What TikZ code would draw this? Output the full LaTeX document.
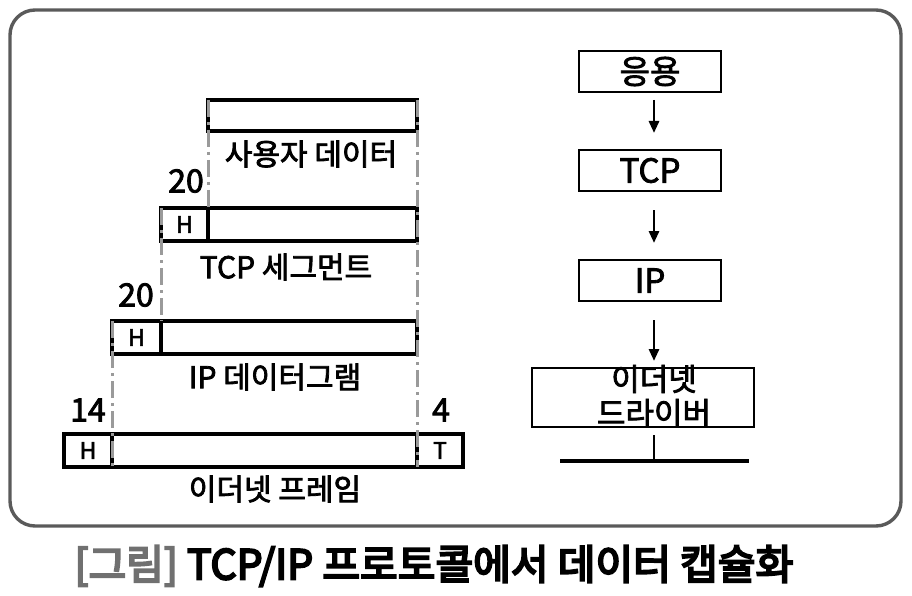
\documentclass[tikz,border=0pt]{standalone}
\usepackage{fontspec}
\setmainfont{Noto Sans CJK KR}
\newfontfamily\medfont{Noto Sans CJK KR}[FakeBold=2.5]
\newfontfamily\capfont{Noto Sans CJK KR}[FakeBold=5]
\usetikzlibrary{arrows.meta}
\definecolor{framegray}{HTML}{5A5A5A}
\definecolor{guidegray}{HTML}{9A9A9A}
\definecolor{capgray}{HTML}{707070}
\begin{document}
\begin{tikzpicture}[x=1pt,y=-1pt,
  blk/.style={draw=black, line width=3.2pt, inner sep=0pt, outer sep=0pt, anchor=north west, minimum height=33pt},
  lbl/.style={font=\medfont\fontsize{30}{30}\selectfont, inner sep=0pt},
  num/.style={font=\medfont\fontsize{32}{32}\selectfont, inner sep=0pt},
  hfont/.style={font=\medfont\fontsize{23}{23}\selectfont},
  guide/.style={draw=guidegray, line width=3pt, dash pattern=on 17pt off 5pt on 3pt off 5pt},
  layer/.style={draw=black, line width=2pt, inner sep=0pt, outer sep=0pt, anchor=north west, minimum width=142pt, minimum height=41pt, font=\medfont\fontsize{33}{33}\selectfont},
  arr/.style={-{Triangle[length=12pt,width=10pt]}, line width=2.8pt}
]
\useasboundingbox (0,0) rectangle (912,596);
% frame
\draw[framegray, line width=3.4pt, rounded corners=25pt] (10,10) rectangle (901,526);

% ---- left: encapsulation stack ----
\node[blk, minimum width=209pt, minimum height=31pt] (ud) at (208,100) {};
\node[lbl] (udl) at (311,154) {사용자 데이터};
\node[num] (n1) at (186,181) {20};

\node[blk, hfont, minimum width=47pt] (th) at (161,208) {H};
\node[blk, minimum width=209pt] (tb) at (208,208) {};
\node[lbl] (tl) at (286,267) {TCP 세그먼트};
\node[num] (n2) at (136,295) {20};

\node[blk, hfont, minimum width=49pt] (ih) at (112,321) {H};
\node[blk, minimum width=256pt] (ib) at (161,321) {};
\node[lbl] (il) at (275,377) {IP 데이터그램};
\node[num] (n3) at (88,410) {14};
\node[num] (n4) at (441,410) {4};

\node[blk, hfont, minimum width=48pt] (eh) at (64,434) {H};
\node[blk, minimum width=305pt] (eb) at (112,434) {};
\node[blk, hfont, minimum width=46pt] (et) at (417,434) {T};
\node[lbl] (el) at (275,489) {이더넷 프레임};

% guides
\draw[guide] (ud.north west) -- (th.north east);
\draw[guide] (th.north west) -- (ih.north east);
\draw[guide] (ih.north west) -- (eh.south east);
\draw[guide] (ud.north east) -- (et.south west);

% ---- right: layers ----
\coordinate (ax) at (654,0);
\node[layer] (app) at (579,51) {응용};
\node[layer] (tcp) at (579,150) {TCP};
\node[layer] (ip) at (579,260) {IP};
\node[draw=black, line width=2pt, inner sep=0pt, outer sep=0pt, anchor=north west, minimum width=222pt, minimum height=59pt] (drv) at (532,368) {};
\node[font=\medfont\fontsize{31}{34}\selectfont, align=center, inner sep=0pt] (drvt) at (654,396) {이더넷\\드라이버};

\draw[arr, shorten <=8pt, shorten >=17pt] (app.south -| ax) -- (tcp.north -| ax);
\draw[arr, shorten <=19pt, shorten >=17pt] (tcp.south -| ax) -- (ip.north -| ax);
\draw[arr, shorten <=19pt, shorten >=7pt] (ip.south -| ax) -- (drv.north -| ax);

\coordinate (busL) at (560,461);
\coordinate (busR) at (749,461);
\coordinate (tap) at (654,461);
\draw[line width=1.8pt, shorten <=8pt] (drv.south -| tap) -- (tap);
\draw[line width=3.6pt] (busL) -- (busR);

% caption
\node[font=\capfont\fontsize{41}{41}\selectfont, inner sep=0pt] (cap) at (434,566) {\textcolor{capgray}{[그림]} TCP/IP 프로토콜에서 데이터 캡슐화};
\end{tikzpicture}
\end{document}
